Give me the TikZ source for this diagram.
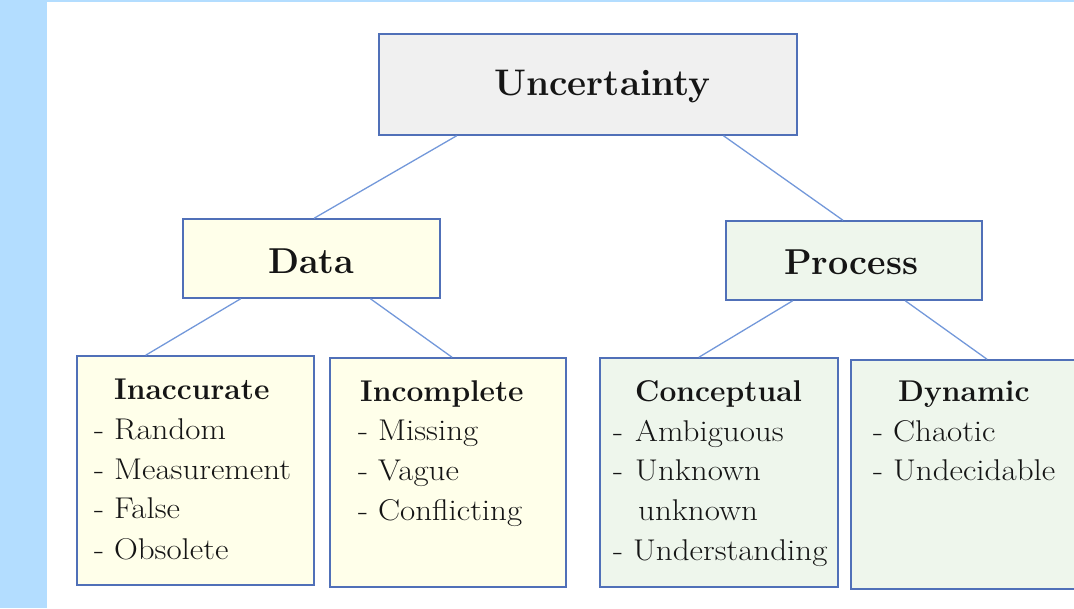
\documentclass[tikz,border=0pt]{standalone}
\usepackage{fontspec}
\newfontfamily\itemfont{Latin Modern Roman}[FakeStretch=1.1]
\usetikzlibrary{calc}
\definecolor{barblue}{HTML}{B3DDFF}
\definecolor{boxline}{HTML}{5070B8}
\definecolor{linkc}{HTML}{7398DA}
\definecolor{grayfill}{HTML}{F0F0F0}
\definecolor{yelfill}{HTML}{FFFFEA}
\definecolor{grnfill}{HTML}{EEF6EC}
\definecolor{txt}{HTML}{151515}
\tikzset{
  box/.style={draw=boxline, line width=1.5pt, inner sep=0pt, rectangle},
  link/.style={draw=linkc, line width=1.3pt},
  toptitle/.style={anchor=base west, inner sep=0pt, font=\fontsize{37}{44}\selectfont\bfseries, text=txt},
  midtitle/.style={anchor=base west, inner sep=0pt, font=\fontsize{36}{43}\selectfont\bfseries, text=txt},
  title/.style={anchor=base west, inner sep=0pt, font=\fontsize{30}{36}\selectfont\bfseries, text=txt},
  item/.style={anchor=base west, inner sep=0pt, font=\itemfont\fontsize{30}{36}\selectfont, text=txt},
}
\begin{document}
\begin{tikzpicture}[x=1pt,y=-1pt]
\useasboundingbox (0,0) rectangle (1074,608);
\clip (0,0) rectangle (1074,608);
% background
\fill[barblue] (0,0) rectangle (47,608);
\fill[barblue] (47,0) rectangle (1074,2);
% boxes
\node[box, fill=grayfill, minimum width=418pt, minimum height=101pt] (unc) at (588,84.5) {};
\node[box, fill=yelfill, minimum width=257pt, minimum height=79pt] (data) at (311.5,258.5) {};
\node[box, fill=grnfill, minimum width=256pt, minimum height=79pt] (proc) at (854,260.5) {};
\node[box, fill=yelfill, minimum width=237pt, minimum height=229pt] (inacc) at (195.5,470.5) {};
\node[box, fill=yelfill, minimum width=236pt, minimum height=229pt] (incomp) at (448,472.5) {};
\node[box, fill=grnfill, minimum width=238pt, minimum height=229pt] (concept) at (719,472.5) {};
\node[box, fill=grnfill, minimum width=249pt, minimum height=229pt] (dyn) at (975.5,474.5) {};
% connectors
\draw[link] ($(unc.south west)!0.187!(unc.south east)$) -- ($(data.north west)!0.51!(data.north east)$);
\draw[link] ($(unc.south west)!0.823!(unc.south east)$) -- ($(proc.north west)!0.457!(proc.north east)$);
\draw[link] ($(data.south west)!0.226!(data.south east)$) -- ($(inacc.north west)!0.291!(inacc.north east)$);
\draw[link] ($(data.south west)!0.728!(data.south east)$) -- ($(incomp.north west)!0.517!(incomp.north east)$);
\draw[link] ($(proc.south west)!0.262!(proc.south east)$) -- ($(concept.north west)!0.416!(concept.north east)$);
\draw[link] ($(proc.south west)!0.699!(proc.south east)$) -- ($(dyn.north west)!0.546!(dyn.north east)$);
% texts
\node[toptitle] (tunc) at (494,95) {Uncertainty};
\node[midtitle] (tdata) at (268,273) {Data};
\node[midtitle] (tproc) at (784,274) {Process};

\node[title] (tinacc) at (114,399) {Inaccurate};
\node[item] (i1) at (94,439) {- Random};
\node[item] (i2) at (94,479) {- Measurement};
\node[item] (i3) at (94,518) {- False};
\node[item] (i4) at (94,559) {- Obsolete};

\node[title] (tincomp) at (360,401) {Incomplete};
\node[item] (c1) at (358,440) {- Missing};
\node[item] (c2) at (358,480) {- Vague};
\node[item] (c3) at (358,520) {- Conflicting};

\node[title] (tconc) at (635,401) {Conceptual};
\node[item] (k1a) at (613,441) {-};
\node[item] (k1) at (635,441) {Ambiguous};
\node[item] (k2a) at (613,480) {-};
\node[item] (k2) at (635,480) {Unknown};
\node[item] (k3) at (638,520) {unknown};
\node[item] (k4) at (613,560) {- Understanding};

\node[title] (tdyn) at (898,401) {Dynamic};
\node[item] (d1) at (873,441) {- Chaotic};
\node[item] (d2) at (873,480) {- Undecidable};
\end{tikzpicture}
\end{document}
